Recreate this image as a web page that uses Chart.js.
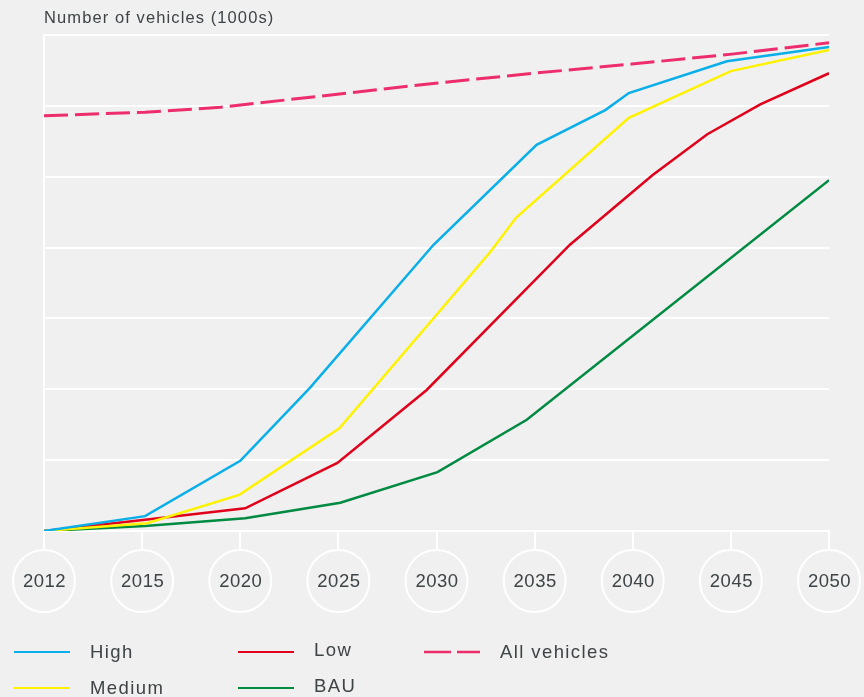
<!DOCTYPE html>
<html>
<head>
<meta charset="utf-8">
<title>Number of vehicles</title>
<script src="https://cdn.jsdelivr.net/npm/chart.js@4"></script>
<style>
  html, body { margin: 0; padding: 0; background: #eff0ef; }
  #wrap {
    position: relative; width: 864px; height: 697px;
    font-family: "Liberation Sans", Arial, sans-serif; color: #3e4346;
  }
  #chart { position: absolute; left: 0; top: 0; }
  .title {
    position: absolute; left: 44px; top: 7px;
    font-size: 16.5px; letter-spacing: 1.1px; line-height: 20px;
  }
  .legend-item {
    position: absolute; height: 24px; line-height: 24px;
    display: flex; align-items: center;
    font-size: 18.5px; letter-spacing: 1.4px;
  }
  .legend-item svg { margin-right: 20px; flex: none; }
  .legend-item.raised span { position: relative; top: -2px; }
</style>
</head>
<body>
<div id="wrap">
  <canvas id="chart" width="864" height="697"></canvas>
  <div class="title">Number of vehicles (1000s)</div>
  <div id="legend"></div>
</div>
<script>
// x = position on the year axis (0 = 2012 ... 8 = 2050), y = vehicles (1000s)
const years = ['2012', '2015', '2020', '2025', '2030', '2035', '2040', '2045', '2050'];

const highX = [0, 1.03, 2.0, 2.71, 3.97, 5.02, 5.72, 5.96, 6.96, 8];
const highY = [0, 21, 99, 202, 404, 545, 594, 618, 663, 683];

const mediumX = [0, 1.05, 1.99, 3.01, 4.55, 4.81, 5.96, 7.0, 8];
const mediumY = [0, 11, 51, 145, 394, 442, 583, 649, 679];

const lowX = [0, 1.03, 2.05, 2.99, 3.90, 5.36, 6.20, 6.76, 7.30, 8];
const lowY = [0, 16, 32, 96, 199, 404, 502, 560, 602, 646];

const bauX = [0, 1.03, 2.05, 3.02, 4.01, 4.92, 8];
const bauY = [0, 7, 18, 40, 83, 157, 495];

const allX = [0, 1.03, 1.80, 3.99, 4.99, 5.99, 7.01, 8];
const allY = [586, 591, 598, 632, 646, 659, 673, 689];

const points = (xs, ys) => xs.map((x, i) => ({ x: x, y: ys[i] }));

// circles with the year inside, hanging under each tick
const yearBadges = {
  id: 'yearBadges',
  afterDraw(chart) {
    const ctx = chart.ctx;
    const x = chart.scales.x;
    const cy = x.top + 50;
    ctx.save();
    ctx.strokeStyle = '#ffffff';
    ctx.lineWidth = 2;
    ctx.fillStyle = '#3e4346';
    ctx.font = '18.5px "Liberation Sans", Arial, sans-serif';
    ctx.letterSpacing = '0.5px';
    ctx.textAlign = 'center';
    ctx.textBaseline = 'middle';
    years.forEach((label, i) => {
      const cx = x.getPixelForValue(i);
      ctx.beginPath();
      ctx.arc(cx, cy, 31, 0, Math.PI * 2);
      ctx.stroke();
      ctx.fillText(label, cx + 0.5, cy + 1);
    });
    ctx.restore();
  }
};

const chart = new Chart(document.getElementById('chart'), {
  type: 'line',
  data: {
    datasets: [
      { label: 'All vehicles', data: points(allX, allY), borderColor: '#ee2d6c', borderWidth: 3, borderDash: [24, 7] },
      { label: 'High', data: points(highX, highY), borderColor: '#0aaee8', borderWidth: 2.5 },
      { label: 'Medium', data: points(mediumX, mediumY), borderColor: '#fff200', borderWidth: 2.5 },
      { label: 'Low', data: points(lowX, lowY), borderColor: '#e1001b', borderWidth: 2.5 },
      { label: 'BAU', data: points(bauX, bauY), borderColor: '#008a42', borderWidth: 2.5 }
    ]
  },
  options: {
    responsive: false,
    animation: false,
    layout: { padding: { top: 35, right: 35, left: 0, bottom: 0 } },
    elements: { point: { radius: 0 }, line: { tension: 0 } },
    plugins: { legend: { display: false }, tooltip: { enabled: false } },
    scales: {
      x: {
        type: 'linear', min: 0, max: 8,
        ticks: { display: false, stepSize: 1 },
        grid: { drawOnChartArea: false, drawTicks: true, tickLength: 18, color: '#ffffff', lineWidth: 2 },
        border: { display: true, color: '#ffffff', width: 2 },
        afterFit: s => { s.height = 166; }
      },
      y: {
        min: 0, max: 700,
        ticks: { display: false, stepSize: 100 },
        grid: { color: '#ffffff', lineWidth: 2, drawTicks: false },
        border: { display: true, color: '#ffffff', width: 2 },
        afterFit: s => { s.width = 44; }
      }
    }
  },
  plugins: [yearBadges]
});

// legend built from the chart's datasets, three columns of line keys
const legendSpots = {
  'High': [14, 640], 'Medium': [14, 676],
  'Low': [238, 640], 'BAU': [238, 676],
  'All vehicles': [424, 640]
};
const legend = document.getElementById('legend');
chart.data.datasets.forEach(ds => {
  const [left, top] = legendSpots[ds.label];
  const dash = ds.borderDash ? 'stroke-dasharray="27 6"' : '';
  const item = document.createElement('div');
  item.className = 'legend-item' + (left === 238 ? ' raised' : '');
  item.style.left = left + 'px';
  item.style.top = top + 'px';
  item.innerHTML =
    '<svg width="56" height="4"><line x1="0" y1="2" x2="56" y2="2" stroke="' + ds.borderColor +
    '" stroke-width="' + (ds.borderDash ? 2.5 : 2) + '" ' + dash + '/></svg><span>' + ds.label + '</span>';
  legend.appendChild(item);
});
</script>
</body>
</html>
